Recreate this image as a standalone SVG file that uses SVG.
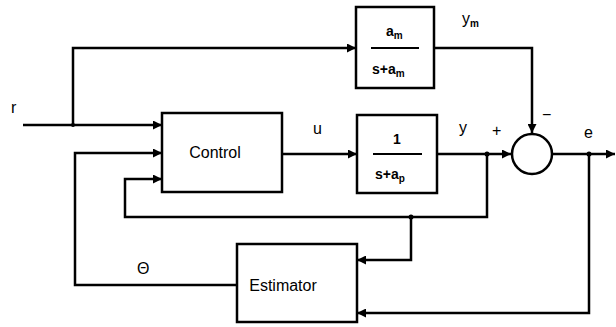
<svg xmlns="http://www.w3.org/2000/svg" width="616" height="327" viewBox="0 0 616 327">
<style>
.blk{fill:#fff;stroke:#000;stroke-width:2.5}
.ln{fill:none;stroke:#000;stroke-width:2.5;stroke-linejoin:miter}
.t{font-family:"Liberation Sans",Arial,sans-serif;fill:#000}
.lbl{font-size:16px}
.frac{font-size:14px;font-weight:bold}
.sub{font-size:10px;font-weight:bold}
</style>
<defs>
<marker id="ah" viewBox="0 0 10 10" refX="10" refY="5" markerWidth="10" markerHeight="9" markerUnits="userSpaceOnUse" orient="auto">
<path d="M0,0 L10,5 L0,10 z" fill="#000"/>
</marker>
</defs>
<rect width="616" height="327" fill="#fff"/>
<g id="connectors">
<path class="ln" d="M23,125 H162" marker-end="url(#ah)"/>
<path class="ln" d="M73,125 V48 H356" marker-end="url(#ah)"/>
<path class="ln" d="M237,285 H75 V153 H162" marker-end="url(#ah)"/>
<path class="ln" d="M487,154 V217 H125 V179 H162" marker-end="url(#ah)"/>
<path class="ln" d="M282,154 H357" marker-end="url(#ah)"/>
<path class="ln" d="M437,154 H511" marker-end="url(#ah)"/>
<path class="ln" d="M434,48 H532 V133" marker-end="url(#ah)"/>
<path class="ln" d="M553,154 H615" marker-end="url(#ah)"/>
<path class="ln" d="M411,217 V260 H357" marker-end="url(#ah)"/>
<path class="ln" d="M589,154 V313 H357" marker-end="url(#ah)"/>
<circle cx="487" cy="154" r="2.5" fill="#000"/>
<circle cx="589" cy="154" r="2.5" fill="#000"/>
<circle cx="411" cy="217" r="2.5" fill="#000"/>
<circle cx="73" cy="125" r="2" fill="#000"/>
<text class="t lbl" x="11" y="113">r</text>
<text class="t lbl" x="313" y="134">u</text>
<text class="t lbl" x="459" y="133">y</text>
<text class="t lbl" x="462" y="24">y<tspan class="sub" dy="3">m</tspan></text>
<text class="t lbl" x="492" y="136">+</text>
<text class="t lbl" x="542" y="120">−</text>
<text class="t lbl" x="584" y="138">e</text>
<text class="t lbl" x="137" y="274">Θ</text>
</g>
<g id="model">
<rect class="blk" x="356" y="7" width="78" height="81"/>
<text class="t frac" x="386" y="36">a<tspan class="sub" dy="3">m</tspan></text>
<line x1="371" y1="48" x2="419" y2="48" stroke="#000" stroke-width="2"/>
<text class="t frac" x="372" y="74">s+a<tspan class="sub" dy="3">m</tspan></text>
</g>
<g id="control">
<rect class="blk" x="162" y="113" width="120" height="79"/>
<text class="t lbl" x="215" y="158" text-anchor="middle">Control</text>
</g>
<g id="plant">
<rect class="blk" x="357" y="115" width="80" height="78"/>
<text class="t frac" x="397" y="144" text-anchor="middle">1</text>
<line x1="373" y1="154" x2="422" y2="154" stroke="#000" stroke-width="2"/>
<text class="t frac" x="375" y="179">s+a<tspan class="sub" dy="3">p</tspan></text>
</g>
<g id="sum">
<circle class="blk" cx="532" cy="154" r="20"/>
</g>
<g id="estimator">
<rect class="blk" x="237" y="244" width="120" height="78"/>
<text class="t lbl" x="283" y="291" text-anchor="middle">Estimator</text>
</g>
</svg>
